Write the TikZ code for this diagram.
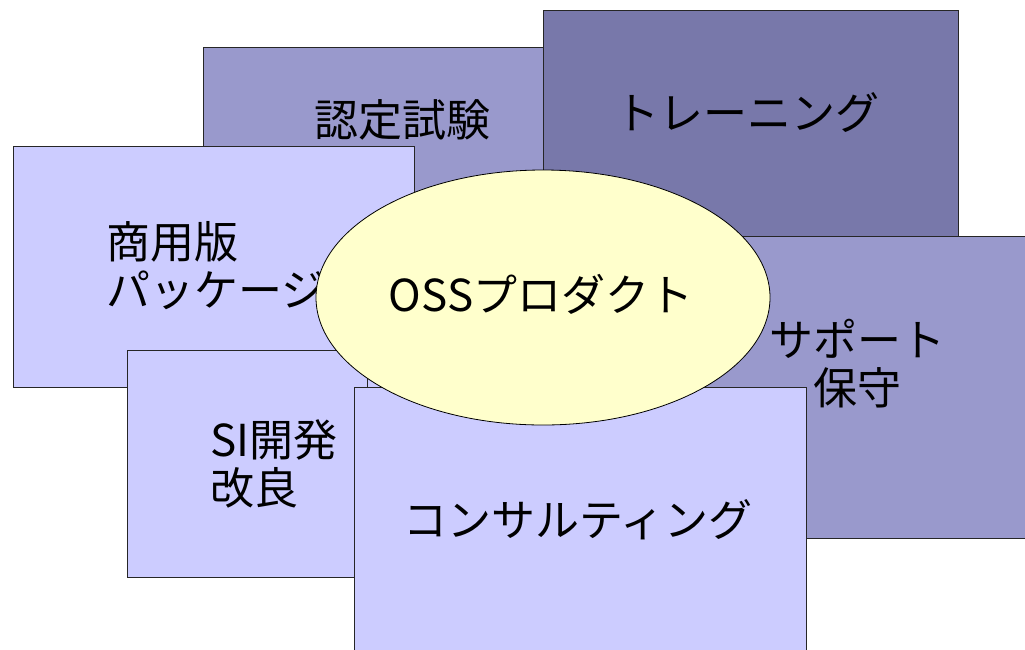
\documentclass[tikz,border=0pt]{standalone}
\usepackage{fontspec}
\setmainfont{Noto Sans CJK JP}
\usetikzlibrary{shapes.geometric}
\definecolor{boxlight}{HTML}{CCCCFF}
\definecolor{boxmid}{HTML}{9999CC}
\definecolor{boxdark}{HTML}{7878AA}
\definecolor{ellfill}{HTML}{FFFFCC}
\tikzset{
  card/.style={draw=black!85, line width=0.8pt, rectangle, inner sep=0pt, outer sep=0pt},
  lbl/.style={font=\fontsize{44}{48}\selectfont, inner sep=0pt, text=black},
}
\begin{document}
\begin{tikzpicture}[x=1pt,y=-1pt]
\useasboundingbox (0,0) rectangle (1025,649);
\clip (0,0) rectangle (1025,649);
% 認定試験
\node[card, fill=boxmid, minimum width=400pt, minimum height=153pt, anchor=north west] (nintei) at (203,47) {};
\node[lbl] (ninteit) at (402,120) {認定試験};
% トレーニング
\node[card, fill=boxdark, minimum width=415pt, minimum height=226pt, anchor=north west] (training) at (543,10) {};
\node[lbl] (trainingt) at (747,113) {トレーニング};
% 商用版パッケージ
\node[card, fill=boxlight, minimum width=401pt, minimum height=241pt, anchor=north west] (shoyo) at (13,146) {};
\node[lbl, align=left, anchor=west] (shoyot) at (106,266) {商用版\\パッケージ};
% サポート保守
\node[card, fill=boxmid, minimum width=340pt, minimum height=302pt, anchor=north west] (support) at (692,236) {};
\node[lbl, align=center] (supportt) at (857,364) {サポート\\保守};
% SI開発改良
\node[card, fill=boxlight, minimum width=240pt, minimum height=227pt, anchor=north west] (si) at (127,350) {};
\node[lbl, align=left, anchor=west] (sit) at (210,464) {SI開発\\改良};
% コンサルティング
\node[card, fill=boxlight, minimum width=452pt, minimum height=280pt, anchor=north west] (consult) at (354,387) {};
\node[lbl] (consultt) at (578,520) {コンサルティング};
% OSSプロダクト
\node[draw=black, line width=0.8pt, fill=ellfill, ellipse, minimum width=454pt, minimum height=255pt, inner sep=0pt] (oss) at (543,297.5) {};
\node[lbl] (osst) at (541,294) {OSSプロダクト};
\end{tikzpicture}
\end{document}
